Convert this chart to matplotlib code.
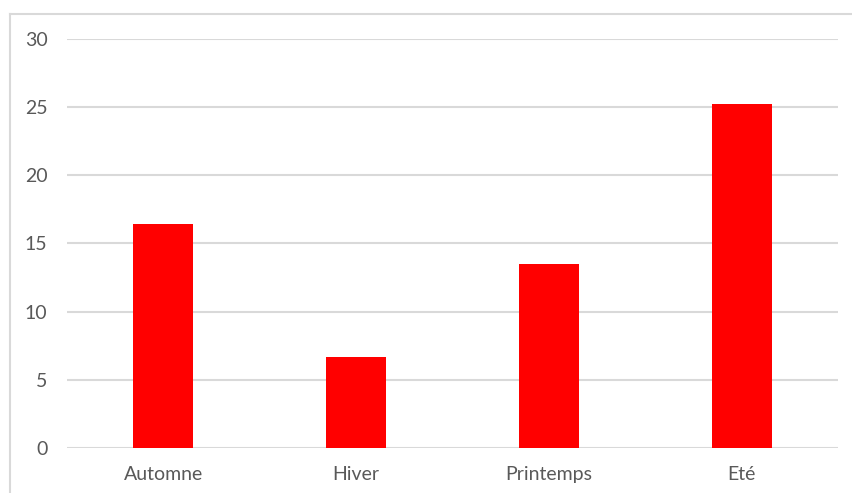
import matplotlib
matplotlib.use("Agg")
import matplotlib.pyplot as plt
from matplotlib.lines import Line2D

categories = ["Automne", "Hiver", "Printemps", "Eté"]
values = [16.4, 6.7, 13.5, 25.2]
y_ticks = [0, 5, 10, 15, 20, 25, 30]

W, H = 852, 493
fig = plt.figure(figsize=(W / 100, H / 100), dpi=100)
fig.patch.set_facecolor("white")

# plot area
left, right, top, bottom = 67, 838, 38.7, 448.3
ax = fig.add_axes([left / W, 1 - bottom / H, (right - left) / W, (bottom - top) / H])

x = range(len(categories))
ax.bar(x, values, width=0.31, color="#ff0000", zorder=3)

ax.set_xlim(-0.5, len(categories) - 0.5)
ax.set_ylim(0, 30)
ax.set_yticks(y_ticks)
ax.set_xticks(list(x))
ax.set_xticklabels(categories)

ax.grid(axis="y", color="#d9d9d9", linewidth=1.5, zorder=0)
ax.set_axisbelow(True)
for s in ax.spines.values():
    s.set_visible(False)
ax.tick_params(axis="both", length=0, labelsize=14, labelcolor="#595959")
ax.tick_params(axis="y", pad=14)
ax.tick_params(axis="x", pad=13)
for lab in ax.get_xticklabels() + ax.get_yticklabels():
    lab.set_family(["Lato", "DejaVu Sans"])

# chart frame (top and left edges)
frame_color = "#d9d9d9"
fig.add_artist(Line2D([10 / W, 1], [1 - 14 / H, 1 - 14 / H], color=frame_color,
                      linewidth=1.5, transform=fig.transFigure))
fig.add_artist(Line2D([10 / W, 10 / W], [1 - 14 / H, 0], color=frame_color,
                      linewidth=1.5, transform=fig.transFigure))

fig.savefig("out.png", dpi=100, facecolor="white")
